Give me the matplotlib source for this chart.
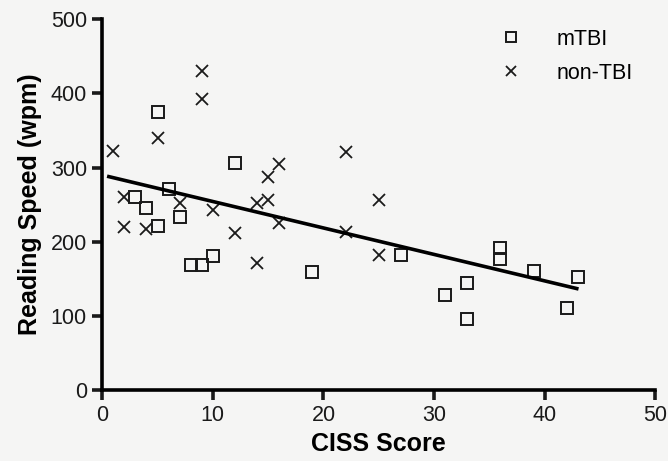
import numpy as np
import matplotlib
matplotlib.use("Agg")
import matplotlib.pyplot as plt

plt.rcParams['font.family'] = ['Liberation Sans', 'DejaVu Sans']

# mTBI group (open squares)
mtbi_ciss = [5, 12, 6, 3, 4, 7, 5, 8, 9, 10, 19, 27, 36, 36, 39, 33, 31, 33, 43, 42]
mtbi_speed = [375, 306, 271, 260, 246, 234, 221, 168, 168, 181, 159, 182, 192, 177, 161, 144, 128, 96, 153, 111]

# non-TBI group (crosses)
non_ciss = [9, 9, 5, 1, 16, 15, 2, 7, 10, 14, 15, 2, 4, 12, 16, 14, 22, 25, 22, 25]
non_speed = [430, 393, 340, 323, 305, 288, 260, 252, 243, 252, 256, 220, 217, 212, 225, 172, 321, 256, 213, 182]

# regression line
fit_intercept = 290
fit_slope = -3.57
fit_range = [0.6, 42.9]

bg = '#f5f5f4'
fig = plt.figure(figsize=(6.68, 4.61), dpi=100, facecolor=bg)
ax = fig.add_axes([0.153, 0.154, 0.828, 0.804], facecolor=bg)

ax.plot(mtbi_ciss, mtbi_speed, linestyle='none', marker='s', markersize=9,
        markerfacecolor='none', markeredgecolor='#1a1a1a', markeredgewidth=1.4, label='mTBI')
ax.plot(non_ciss, non_speed, linestyle='none', marker='x', markersize=9,
        color='#1a1a1a', markeredgewidth=1.3, label='non-TBI')

fx = np.array(fit_range)
ax.plot(fx, fit_intercept + fit_slope * fx, color='black', linewidth=2.6)

ax.set_xlim(0, 50)
ax.set_ylim(0, 500)
ax.set_xticks([0, 10, 20, 30, 40, 50])
ax.set_yticks([0, 100, 200, 300, 400, 500])
for s in ['top', 'right']:
    ax.spines[s].set_visible(False)
for s in ['left', 'bottom']:
    ax.spines[s].set_linewidth(2.6)
ax.tick_params(width=2.6, length=7, labelsize=15.5, colors='#1a1a1a', pad=4)

ax.set_xlabel('CISS Score', fontsize=18, fontweight='bold', labelpad=4)
ax.set_ylabel('Reading Speed (wpm)', fontsize=18, fontweight='bold', labelpad=6)

ax.legend(loc='upper left', frameon=False, fontsize=15.5, handletextpad=1.6,
          handlelength=1.0, borderpad=0, borderaxespad=0, labelspacing=0.6,
          markerscale=0.8, bbox_to_anchor=(0.72, 0.975))

fig.savefig('out.png', dpi=100, facecolor=bg)
